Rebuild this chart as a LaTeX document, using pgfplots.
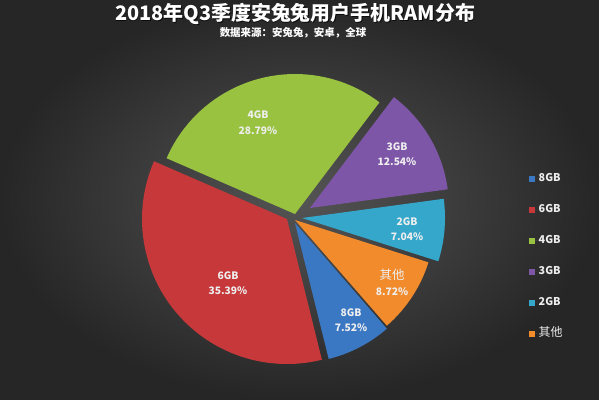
\documentclass[border=0pt]{standalone}
\usepackage{fontspec}
\usepackage{pgfplots}
\pgfplotsset{compat=1.18}
\setmainfont{Noto Sans CJK SC}
\definecolor{c8}{HTML}{3B78C4}
\definecolor{c6}{HTML}{C6383A}
\definecolor{c4}{HTML}{98C23F}
\definecolor{c3}{HTML}{7E56A8}
\definecolor{c2}{HTML}{35A7CB}
\definecolor{co}{HTML}{F28B2C}
\definecolor{bgin}{HTML}{545454}
\definecolor{bgout}{HTML}{262626}
\definecolor{lab}{HTML}{EEEEEE}
% slice values (percent), clockwise from the start angle
\def\vA{7.52}  % 8GB
\def\vB{35.39} % 6GB
\def\vC{28.79} % 4GB
\def\vD{12.54} % 3GB
\def\vE{7.04}  % 2GB
\def\vF{8.72}  % other
\pgfmathsetmacro\aA{-49}
\pgfmathsetmacro\aB{\aA-3.6*\vA}
\pgfmathsetmacro\aC{\aB-3.6*\vB}
\pgfmathsetmacro\aD{\aC-3.6*\vC}
\pgfmathsetmacro\aE{\aD-3.6*\vD}
\pgfmathsetmacro\aF{\aE-3.6*\vE}
\pgfmathsetmacro\aG{\aF-3.6*\vF}
\begin{document}
\begin{tikzpicture}
\shade[inner color=bgin, outer color=bgout] (0,0) rectangle (599bp,399bp);
\begin{axis}[scale only axis, width=599bp, height=399bp,
  xmin=0, xmax=599, ymin=0, ymax=399, hide axis, clip=false,
  legend image code/.code={\fill[#1] (0bp,-3bp) rectangle (6bp,3bp); \path (0bp,0bp) -- (8.5bp,0bp);},
  legend cell align=left,
  legend style={at={(axis cs:529,227)}, anchor=north west, draw=none, fill=none,
    text=lab, font=\bfseries\fontsize{10.8}{12}\selectfont, row sep=18bp,
    inner sep=0pt, nodes={inner sep=1bp, text height=8.5bp, text depth=2.5bp}},
  every axis plot/.append style={draw=none, samples=60, domain=0:1, variable=\t},
]
\addplot[fill=c8] ({295+140*cos(\aA+\t*(\aB-\aA))},{176+140*sin(\aA+\t*(\aB-\aA))}) -- (axis cs:295,176) -- cycle;
\addlegendentry{8GB}
\addplot[fill=c6] ({287+145*cos(\aB+\t*(\aC-\aB))},{180+145*sin(\aB+\t*(\aC-\aB))}) -- (axis cs:287,180) -- cycle;
\addlegendentry{6GB}
\addplot[fill=c4] ({295+140*cos(\aC+\t*(\aD-\aC))},{185+140*sin(\aC+\t*(\aD-\aC))}) -- (axis cs:295,185) -- cycle;
\addlegendentry{4GB}
\addplot[fill=c3] ({310+139*cos(\aD+\t*(\aE-\aD))},{191+139*sin(\aD+\t*(\aE-\aD))}) -- (axis cs:310,191) -- cycle;
\addlegendentry{3GB}
\addplot[fill=c2] ({302+143*cos(\aE+\t*(\aF-\aE))},{181+143*sin(\aE+\t*(\aF-\aE))}) -- (axis cs:302,181) -- cycle;
\addlegendentry{2GB}
\addplot[fill=co] ({295+140*cos(\aF+\t*(\aG-\aF))},{179+140*sin(\aF+\t*(\aG-\aF))}) -- (axis cs:295,179) -- cycle;
\addlegendentry{{\mdseries\fontsize{12}{12}\selectfont 其他}}
% title
\node[text=black, opacity=0.7, font=\bfseries\fontsize{20}{24}\selectfont] at (axis cs:295.8,384.2) {2018年Q3季度安兔兔用户手机RAM分布};
\node[text=white, font=\bfseries\fontsize{20}{24}\selectfont] at (axis cs:295,385) {2018年Q3季度安兔兔用户手机RAM分布};
\node[text=white, font=\bfseries\fontsize{10.5}{12}\selectfont] at (axis cs:293,366.5) {数据来源：安兔兔，安卓，全球};
% slice labels
\begin{scope}[every node/.style={text=lab, font=\bfseries\fontsize{10.3}{12}\selectfont}]
\node at (axis cs:258,284) {4GB};
\node at (axis cs:258,268) {28.79\%};
\node at (axis cs:397,252) {3GB};
\node at (axis cs:397,237) {12.54\%};
\node at (axis cs:407,177) {2GB};
\node at (axis cs:407,162) {7.04\%};
\node[font=\fontsize{12.5}{12}\selectfont] at (axis cs:392,124) {其他};
\node at (axis cs:392,107) {8.72\%};
\node at (axis cs:351,86) {8GB};
\node at (axis cs:351,71) {7.52\%};
\node at (axis cs:228,123) {6GB};
\node at (axis cs:228,108) {35.39\%};
\end{scope}
\end{axis}
\end{tikzpicture}
\end{document}
